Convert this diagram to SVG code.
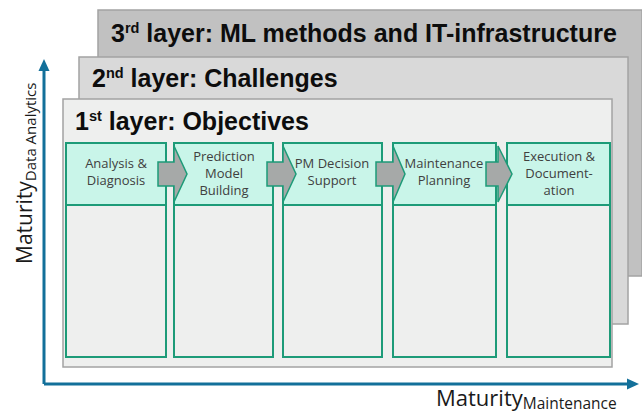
<svg xmlns="http://www.w3.org/2000/svg" width="642" height="416" viewBox="0 0 642 416">
<style>
.layer-title{font-family:"Liberation Sans",Arial,sans-serif;font-weight:bold;font-size:25px;fill:#0d0d0d}
.sup{font-size:14.5px}
.hdr{fill:#c9f5e9;stroke:#1d9b78;stroke-width:2}
.low{fill:#eeefee;stroke:#1d9b78;stroke-width:2}
.lbl{font-family:"Open Sans","Noto Sans",sans-serif;font-size:13px;fill:#404040;text-anchor:middle}
.arr{fill:#a6a9a8;stroke:#1d9b78;stroke-width:1.5;stroke-linejoin:miter}
.axis{stroke:#13709a;stroke-width:3;fill:none}
.axhead{fill:#13709a}
.axlbl{font-family:"Open Sans","Noto Sans",sans-serif;fill:#1a1a1a}
</style>
<rect width="642" height="416" fill="#ffffff"/>
<g id="layer3">
<rect x="98" y="10" width="544" height="266" fill="#c1c1c1" stroke="#a3a3a3" stroke-width="1.5"/>
<text class="layer-title" x="111" y="42">3<tspan class="sup" dy="-9">rd</tspan><tspan dy="9"> layer: ML methods and IT-infrastructure</tspan></text>
</g>
<g id="layer2">
<rect x="79" y="57" width="549" height="267" fill="#d9d9d9" stroke="#a3a3a3" stroke-width="1.5"/>
<text class="layer-title" x="92" y="87">2<tspan class="sup" dy="-9">nd</tspan><tspan dy="9"> layer: Challenges</tspan></text>
</g>
<g id="layer1">
<rect x="63" y="99" width="549" height="268" fill="#eeefee" stroke="#a3a3a3" stroke-width="1.5"/>
<text class="layer-title" x="75" y="130">1<tspan class="sup" dy="-9">st</tspan><tspan dy="9"> layer: Objectives</tspan></text>
</g>
<g id="step1">
<rect class="low" x="66" y="205" width="100" height="152"/>
<rect class="hdr" x="66" y="143" width="100" height="62"/>
<text class="lbl" x="116" y="168">Analysis &amp;</text>
<text class="lbl" x="116" y="185">Diagnosis</text>
</g>
<g id="step2">
<rect class="low" x="174" y="205" width="99" height="152"/>
<rect class="hdr" x="174" y="143" width="99" height="62"/>
<text class="lbl" x="224" y="161">Prediction</text>
<text class="lbl" x="224" y="178">Model</text>
<text class="lbl" x="224" y="195">Building</text>
</g>
<g id="step3">
<rect class="low" x="283" y="205" width="99" height="152"/>
<rect class="hdr" x="283" y="143" width="99" height="62"/>
<text class="lbl" x="332" y="168">PM Decision</text>
<text class="lbl" x="332" y="185">Support</text>
</g>
<g id="step4">
<rect class="low" x="393" y="205" width="103" height="152"/>
<rect class="hdr" x="393" y="143" width="103" height="62"/>
<text class="lbl" x="444" y="168">Maintenance</text>
<text class="lbl" x="444" y="185">Planning</text>
</g>
<g id="step5">
<rect class="low" x="507" y="205" width="103" height="152"/>
<rect class="hdr" x="507" y="143" width="103" height="62"/>
<text class="lbl" x="559" y="161">Execution &amp;</text>
<text class="lbl" x="559" y="178">Document-</text>
<text class="lbl" x="559" y="195">ation</text>
</g>
<g id="connectors">
<polygon class="arr" points="158,162 174,162 174,146 187,174 174,202 174,186 158,186"/>
<polygon class="arr" points="267,162 283,162 283,146 296,174 283,202 283,186 267,186"/>
<polygon class="arr" points="376,162 393,162 393,146 405,174 393,202 393,186 376,186"/>
<polygon class="arr" points="486,162 498,162 498,146 512,174 498,202 498,186 486,186"/>
</g>
<g id="axes">
<path class="axis" d="M44,384 V70 M44,384 H628"/>
<polygon class="axhead" points="44,59 38.5,71 49.5,71"/>
<polygon class="axhead" points="639,384 627,378.5 627,389.5"/>
<text class="axlbl" font-size="21" transform="translate(32,264) rotate(-90)">Maturity<tspan font-size="15" dy="4">Data Analytics</tspan></text>
<text class="axlbl" font-size="22" x="436" y="406">Maturity<tspan font-size="15.5" dy="3">Maintenance</tspan></text>
</g>
</svg>
